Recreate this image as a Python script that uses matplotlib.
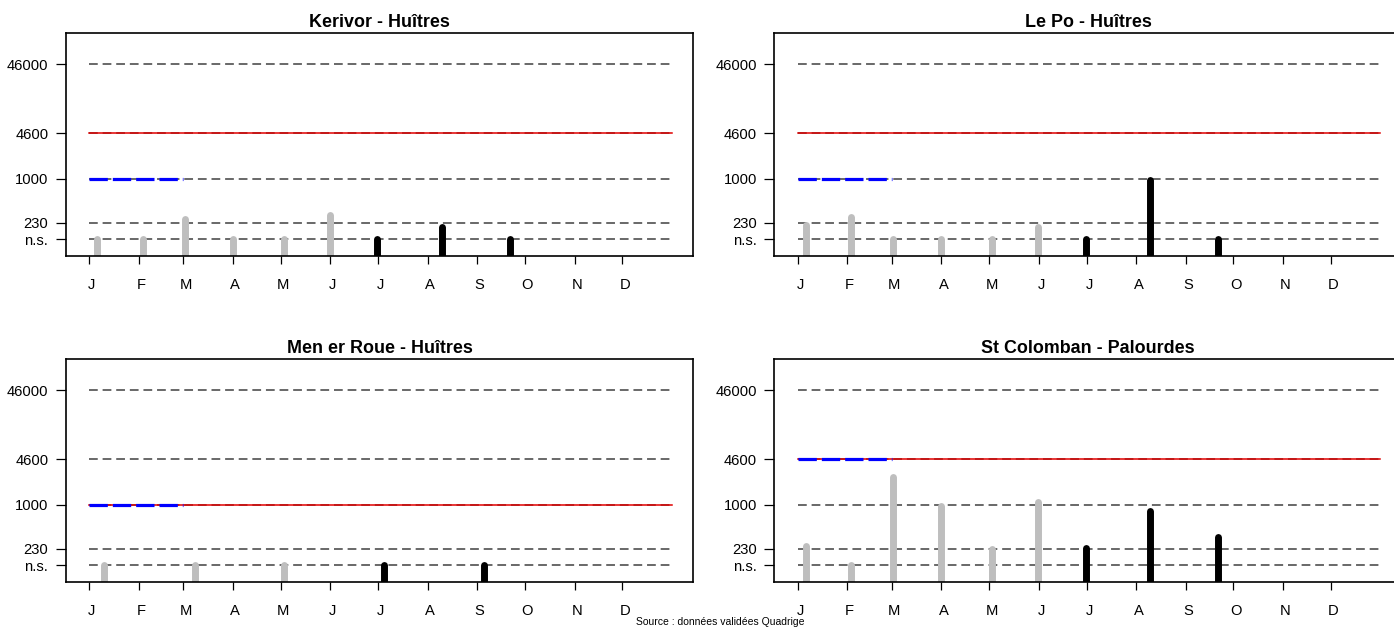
import matplotlib
matplotlib.use("Agg")
import matplotlib.pyplot as plt
import numpy as np

plt.rcParams['font.family'] = ['Liberation Sans', 'DejaVu Sans']
plt.rcParams['lines.scale_dashes'] = False

# ---------------- data ----------------
months = ['J', 'F', 'M', 'A', 'M', 'J', 'J', 'A', 'S', 'O', 'N', 'D']
month_start_days = [0, 31, 59, 90, 120, 151, 181, 212, 243, 273, 304, 334]

ns_level = 133
ref_levels = [46000, 4600, 1000, 230, ns_level]
ref_labels = ['46000', '4600', '1000', '230', 'n.s.']

titles = ["Kerivor - Huîtres", "Le Po - Huîtres",
          "Men er Roue - Huîtres", "St Colomban - Palourdes"]
red_levels = [4600, 4600, 1000, 4600]
blue_levels = [1000, 1000, 1000, 4600]

kerivor_grey_days = [5, 33.5, 60, 90, 122, 150.5]
kerivor_grey_vals = [ns_level, ns_level, 259, ns_level, ns_level, 296]
kerivor_black_days = [180.5, 221, 263.5]
kerivor_black_vals = [ns_level, 198, ns_level]

lepo_grey_days = [5, 33.5, 60, 90, 122, 150.5]
lepo_grey_vals = [212, 284, ns_level, ns_level, ns_level, 198]
lepo_black_days = [180.5, 221, 263.5]
lepo_black_vals = [ns_level, 966, ns_level]

menerroue_grey_days = [9.5, 66, 122]
menerroue_grey_vals = [ns_level, ns_level, ns_level]
menerroue_black_days = [184.5, 247]
menerroue_black_vals = [ns_level, ns_level]

stcolomban_grey_days = [5, 33.5, 60, 90, 122, 150.5]
stcolomban_grey_vals = [256, ns_level, 2522, 966, 232, 1104]
stcolomban_black_days = [180.5, 221, 263.5]
stcolomban_black_vals = [237, 828, 347]

grey_days = [kerivor_grey_days, lepo_grey_days, menerroue_grey_days, stcolomban_grey_days]
grey_vals = [kerivor_grey_vals, lepo_grey_vals, menerroue_grey_vals, stcolomban_grey_vals]
black_days = [kerivor_black_days, lepo_black_days, menerroue_black_days, stcolomban_black_days]
black_vals = [kerivor_black_vals, lepo_black_vals, menerroue_black_vals, stcolomban_black_vals]

# ---------------- layout ----------------
W, H = 1394, 627
fig = plt.figure(figsize=(W / 100, H / 100), dpi=100)

def rect(left, top, w, h):
    return [left / W, 1 - (top + h) / H, w / W, h / H]

panel_px = [(66, 33), (774.4, 33), (66, 359), (774.4, 359)]
aw, ah = 627.3, 223

for i in range(4):
    ax = fig.add_axes(rect(panel_px[i][0], panel_px[i][1], aw, ah))
    ax.set_yscale('log')
    ax.set_xlim(-14.6, 378.4)
    ax.set_ylim(10 ** 1.88, 10 ** 5.12)

    # reference dashed lines
    for lv in ref_levels:
        ax.plot([0, 365], [lv, lv], color='#404040', lw=1.1,
                dashes=(6.3, 3.5), zorder=1)
    # red threshold
    ax.plot([0, 365], [red_levels[i]] * 2, color='#e00000', lw=1.1, zorder=1.5)
    # blue dashed segment Jan-Feb
    ax.plot([0, 59], [blue_levels[i]] * 2, color='#0000ff', lw=2.3,
            dashes=(13.2, 3.6), solid_capstyle='butt', zorder=1.6)

    # bars
    lc = ax.vlines(grey_days[i], 10, grey_vals[i], color='#bebebe', lw=5.0, zorder=2)
    lc.set_capstyle('round')
    lc2 = ax.vlines(black_days[i], 10, black_vals[i], color='black', lw=5.0, zorder=2.1)
    lc2.set_capstyle('round')

    for s in ax.spines.values():
        s.set_linewidth(1.2)
        s.set_zorder(3)

    ax.set_yticks(ref_levels)
    ax.set_yticklabels(ref_labels)
    ax.yaxis.set_minor_locator(matplotlib.ticker.NullLocator())
    ax.tick_params(axis='y', which='major', length=7.2, width=0.9, pad=5.5,
                   labelsize=10.6, direction='out')

    ax.set_xticks(month_start_days)
    ax.set_xticklabels([])
    ax.set_xticks([d + 1.5 for d in month_start_days], minor=True)
    ax.set_xticklabels(months, minor=True)
    ax.tick_params(axis='x', which='major', length=5.8, width=0.9, direction='out')
    ax.tick_params(axis='x', which='minor', length=0, pad=16, labelsize=10.6)

    ax.set_title(titles[i], fontsize=12.9, fontweight='bold', pad=4.5)

fig.text(720 / W, 1 - 625 / H, "Source : données validées Quadrige",
         ha='center', va='baseline', fontsize=7.5)

fig.savefig("out.png", dpi=100)
